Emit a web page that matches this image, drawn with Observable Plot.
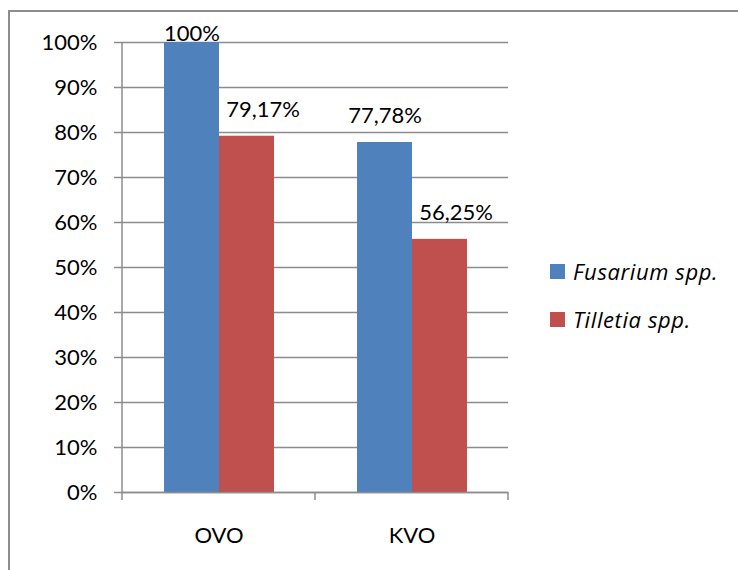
<!DOCTYPE html>
<html>
<head>
<meta charset="utf-8">
<script src="https://cdn.jsdelivr.net/npm/d3@7"></script>
<script src="https://cdn.jsdelivr.net/npm/@observablehq/plot@0.6"></script>
<style>
  html, body { margin: 0; padding: 0; background: #fff; }
  #wrap { position: relative; width: 738px; height: 570px; overflow: hidden; font-family: Lato, "Open Sans", sans-serif; }
  #border { position: absolute; left: 8px; top: 10px; width: 760px; height: 600px; border-left: 2px solid #8c8c8c; border-top: 2px solid #8c8c8c; box-sizing: border-box; }
  #chart { position: absolute; left: 0; top: 0; }
  #legend { position: absolute; left: 550px; top: 257px; }
  .item { display: flex; align-items: center; height: 28px; margin-bottom: 20px; font-family: "Open Sans", Lato, sans-serif; font-size: 22px; letter-spacing: 0.6px; font-style: italic; color: #000; }
  .sw { width: 15px; height: 15px; margin-right: 8px; }
</style>
</head>
<body>
<div id="wrap">
  <div id="border"></div>
  <div id="chart"></div>
  <div id="legend"></div>
</div>
<script>
const categories = ["OVO", "KVO"];
const seriesNames = ["Fusarium spp.", "Tilletia spp."];
const fusarium = [1.0, 0.7778];
const tilletia = [0.7917, 0.5625];
const colors = ["#4F81BD", "#C0504D"];
const yTicks = [0, 0.1, 0.2, 0.3, 0.4, 0.5, 0.6, 0.7, 0.8, 0.9, 1.0];

const seriesValues = [fusarium, tilletia];
const data = [];
categories.forEach((c, i) => {
  seriesNames.forEach((s, j) => data.push({category: c, series: s, value: seriesValues[j][i]}));
});

const locale = d3.formatLocale({decimal: ",", thousands: ".", grouping: [3], currency: ["", "€"]});
const fmtLabel = locale.format(".2~%");
const fmtTick = locale.format(".0%");

const grey = "#8c8c8c";
const isF = d => d.series === seriesNames[0];

const plot = Plot.plot({
  width: 738,
  height: 570,
  marginLeft: 122,
  marginRight: 230,
  marginTop: 42,
  marginBottom: 78,
  style: {fontFamily: "Lato, 'Open Sans', sans-serif", background: "transparent", overflow: "visible"},
  fx: {domain: categories, paddingInner: 0, paddingOuter: 0},
  x: {domain: seriesNames, paddingInner: 0, paddingOuter: 0.75},
  y: {domain: [0, 1]},
  color: {domain: seriesNames, range: colors},
  marks: [
    Plot.gridY(yTicks, {stroke: grey, strokeOpacity: 1, strokeWidth: 1.5}),
    Plot.barY(data, {fx: "category", x: "series", y: "value", fill: "series"}),
    Plot.ruleY([0], {stroke: grey, strokeWidth: 1.5}),
    Plot.text(data.filter(d => isF(d) && d.value >= 0.95), {
      fx: "category", x: "series", y: "value", text: d => fmtLabel(d.value),
      lineAnchor: "bottom", dy: -2, fontSize: 22, fill: "#000"
    }),
    Plot.text(data.filter(d => isF(d) && d.value < 0.95), {
      fx: "category", x: "series", y: "value", text: d => fmtLabel(d.value),
      lineAnchor: "bottom", dy: -19, fontSize: 22, fill: "#000"
    }),
    Plot.text(data.filter(d => !isF(d)), {
      fx: "category", x: "series", y: "value", text: d => fmtLabel(d.value),
      lineAnchor: "bottom", dy: -19, dx: 16, fontSize: 22, fill: "#000"
    }),
    Plot.axisY(yTicks, {tickFormat: fmtTick, tickSize: 8, tickPadding: 17, fontSize: 22, stroke: grey, strokeWidth: 1.5, label: null, color: "#000"}),
    Plot.axisFx({tickSize: 0, tickPadding: 35, fontSize: 22, label: null, anchor: "bottom"}),
    Plot.axisX({ticks: [], label: null})
  ]
});

document.getElementById("chart").appendChild(plot);

// Axis line and category boundary ticks, positioned via Plot's own scales
const fx = plot.scale("fx");
const y = plot.scale("y");
const svg = d3.select(plot);
const bounds = categories.map(c => fx.apply(c));
bounds.push(fx.apply(categories[categories.length - 1]) + fx.bandwidth);
const left = bounds[0];
const y0 = y.apply(0), y1 = y.apply(1);
const g = svg.append("g").attr("stroke", grey).attr("stroke-width", 1.5);
g.append("line").attr("x1", left).attr("x2", left).attr("y1", y1).attr("y2", y0);
bounds.forEach(b => g.append("line").attr("x1", b).attr("x2", b).attr("y1", y0).attr("y2", y0 + 8));

// Legend
const legend = d3.select("#legend");
seriesNames.forEach((s, i) => {
  const it = legend.append("div").attr("class", "item");
  it.append("div").attr("class", "sw").style("background", colors[i]);
  it.append("span").text(s);
});
</script>
</body>
</html>
